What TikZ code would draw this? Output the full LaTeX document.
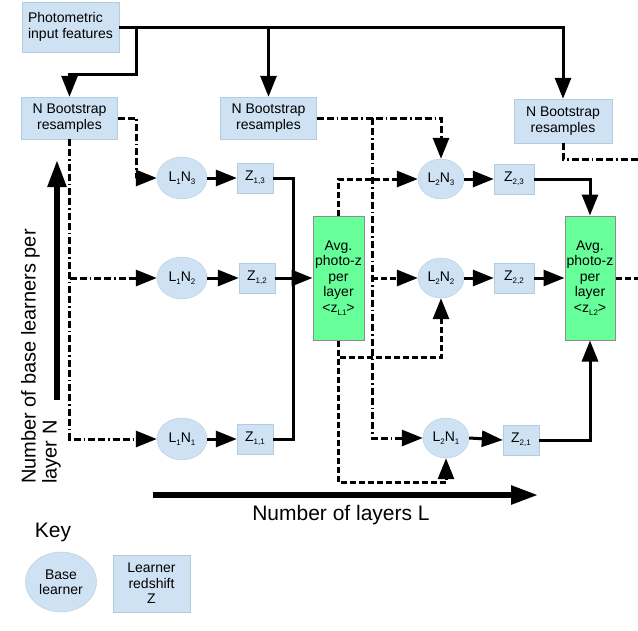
\documentclass[tikz,border=0pt]{standalone}
\usepackage{fontspec}
\setmainfont{Liberation Sans}
\usepackage{xcolor}
\usepackage{tikz}
\usetikzlibrary{positioning, shapes.geometric, arrows.meta, calc}

\definecolor{lrnblue}{RGB}{207,226,243}
\definecolor{lrnedge}{RGB}{178,204,224}
\definecolor{avggreen}{RGB}{102,255,153}
\definecolor{avgedge}{RGB}{140,140,140}
\newcommand{\lowidx}[1]{\raisebox{-0.45ex}{\fontsize{8}{8}\selectfont #1}}

\begin{document}
\begin{tikzpicture}[x=1pt, y=-1pt,
    every node/.style={font=\fontsize{14}{15.5}\selectfont},
    box/.style={draw=lrnedge, fill=lrnblue, minimum width=96pt, minimum height=42pt, inner sep=2pt, align=center},
    learner/.style={ellipse, draw=lrnedge, fill=lrnblue, minimum width=50pt, minimum height=42pt, inner sep=0pt},
    zbox/.style={draw=lrnedge, fill=lrnblue, minimum width=36pt, minimum height=30pt, inner sep=0pt},
    avgbox/.style={draw=avgedge, line width=1pt, fill=avggreen, minimum width=51pt, minimum height=124pt, inner sep=0pt, align=center},
    plain/.style={line width=3pt},
    flow/.style={line width=3pt, -{Triangle[length=21pt, width=16pt]}},
    dashdot/.style={dash pattern=on 7pt off 3pt on 7pt off 3pt on 1.5pt off 3pt},
    dashline/.style={dash pattern=on 6pt off 3pt},
    axis/.style={line width=5.5pt, -{Triangle[length=27pt, width=18pt]}},
    bigtext/.style={font=\fontsize{21}{21}\selectfont}]
      \useasboundingbox (0,0) rectangle (638,630);

      % Inputs and resampling
      \node[box, align=left, minimum width=97pt, minimum height=50pt] (feat) at (70.5,27) {Photometric\\input features};
      \node[box] (nb1) at (69.5,118) {N Bootstrap\\resamples};
      \node[box] (nb2) at (268.5,118) {N Bootstrap\\resamples};
      \node[box, minimum width=98pt, minimum height=44pt] (nb3) at (563,121) {N Bootstrap\\resamples};

      \coordinate (fa) at (136,27);
      \draw[flow] (feat.east) -| (nb3.north);
      \draw[flow] (fa) -- ++(0,47) -| (nb1.north);
      \draw[flow] (nb2.north |- feat.east) -- (nb2.north);

      % Layer 1
      \node[learner] (l1n3) at (182,178) {L\lowidx{1}N\lowidx{3}};
      \node[learner] (l1n2) at (182,278) {L\lowidx{1}N\lowidx{2}};
      \node[learner] (l1n1) at (182,439) {L\lowidx{1}N\lowidx{1}};
      \node[zbox] (z13) at (255,178) {Z\lowidx{1,3}};
      \node[zbox] (z12) at (257,278) {Z\lowidx{1,2}};
      \node[zbox] (z11) at (255,439) {Z\lowidx{1,1}};
      \node[avgbox] (avg1) at (338.5,278) {Avg.\\photo-z\\per\\layer\\<z\lowidx{L1}>};

      \draw[dashdot, flow] (nb1.east) -- ++(19,0) |- (l1n3.west);
      \draw[dashdot, flow] (nb1.south) |- (l1n1.west);
      \draw[dashdot, flow] (nb1.south |- l1n2.west) -- (l1n2.west);

      \foreach \k in {1,2,3}
        \draw[flow] (l1n\k.east) -- (z1\k.west);

      \coordinate (m1) at (293,278);
      \draw[plain] (z13.east) -| (m1) |- (z11.east);
      \draw[flow] (z12.east) -- (avg1.west);

      % Layer 2
      \node[learner, minimum width=46pt, minimum height=40pt] (l2n3) at (441,179) {L\lowidx{2}N\lowidx{3}};
      \node[learner, minimum width=46pt, minimum height=40pt] (l2n2) at (441,278) {L\lowidx{2}N\lowidx{2}};
      \node[learner, minimum width=46pt, minimum height=40pt] (l2n1) at (446,438) {L\lowidx{2}N\lowidx{1}};
      \node[zbox, minimum width=40pt] (z23) at (514,179) {Z\lowidx{2,3}};
      \node[zbox, minimum width=40pt] (z22) at (514,278) {Z\lowidx{2,2}};
      \node[zbox, minimum width=36pt] (z21) at (521,440) {Z\lowidx{2,1}};
      \node[avgbox, minimum width=50pt] (avg2) at (590,278) {Avg.\\photo-z\\per\\layer\\<z\lowidx{L2}>};

      \coordinate (v2) at (372,118);
      \draw[dashdot, flow] (nb2.east) -| (l2n3.north);
      \draw[dashdot, flow] (v2) |- (l2n1.west);

      \draw[dashline, flow] (avg1.north) |- (l2n3.west);
      \draw[dashline, flow] (v2 |- l2n2.west) -- (l2n2.west);
      \draw[dashline, flow] (avg1.south) -- ++(0,17) -| (l2n2.south);
      \draw[dashline, flow] (avg1.south) -- ++(0,142) -| (l2n1.south);

      \foreach \k in {1,2,3}
        \draw[flow] (l2n\k.east) -- (z2\k.west);

      \draw[flow] (z23.east) -| (avg2.north);
      \draw[flow] (z22.east) -- (avg2.west);
      \draw[flow] (z21.east) -| (avg2.south);

      % Towards the next layer
      \coordinate (e3) at (638,159);
      \coordinate (e2) at (638,278);
      \draw[plain, dashdot] (nb3.south) |- (e3);
      \draw[plain, dashline] (avg2.east) -- (e2);

      % Axes
      \coordinate (nlo) at (57,400);
      \coordinate (nhi) at (57,160);
      \coordinate (llo) at (153,495);
      \coordinate (lhi) at (538,495);
      \draw[axis] (nlo) -- (nhi);
      \draw[axis] (llo) -- (lhi);
      \node[bigtext, font=\fontsize{20}{21}\selectfont, rotate=90, anchor=north west, align=left, inner sep=0pt] (nlabel) at (21,484) {Number of base learners per\\layer N};
      \node[bigtext] (llabel) at (341,515) {Number of layers L};

      % Key
      \node[bigtext] (keylbl) at (53,532) {Key};
      \node[learner, minimum width=71pt, minimum height=60pt, align=center] (keyl) at (61,582) {Base\\learner};
      \node[zbox, minimum width=77pt, minimum height=57pt, align=center] (keyz) at (151.5,583.5) {Learner\\redshift\\Z};
\end{tikzpicture}
\end{document}
